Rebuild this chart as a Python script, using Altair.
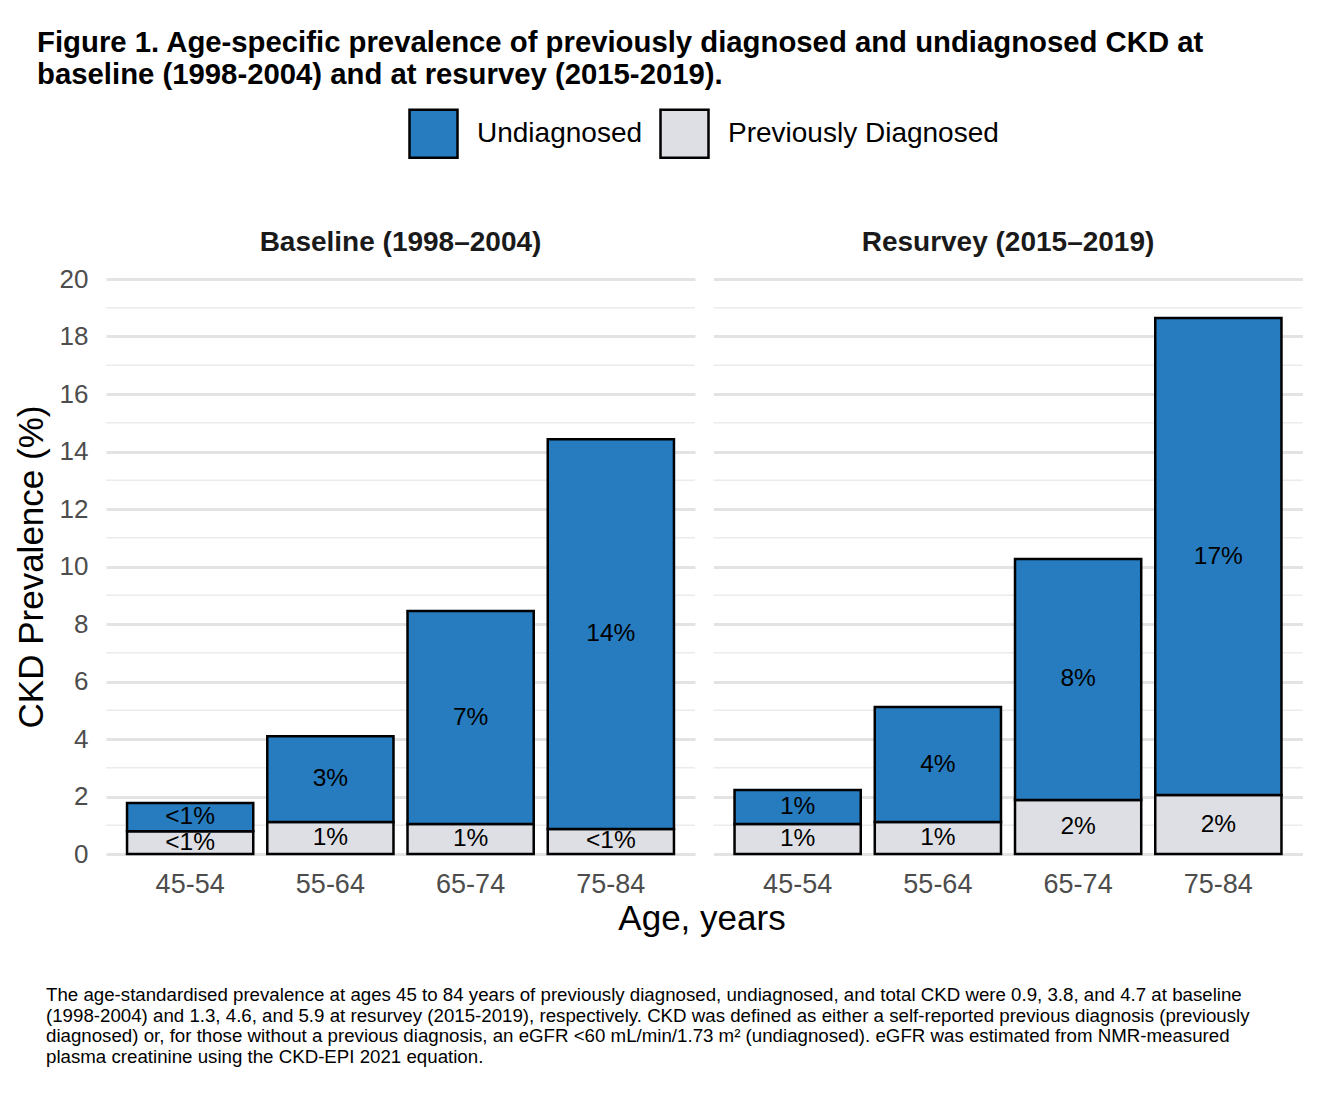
import altair as alt
import pandas as pd

# ---- data ----
ages = ["45-54", "55-64", "65-74", "75-84"]
periods = ["Baseline (1998–2004)", "Resurvey (2015–2019)"]
statuses = ["Undiagnosed", "Previously Diagnosed"]

diag_base = [0.79, 1.11, 1.04, 0.87]
undiag_base = [0.98, 2.99, 7.41, 13.56]
diag_resv = [1.04, 1.11, 1.88, 2.05]
undiag_resv = [1.19, 4.00, 8.38, 16.59]

lab_diag_base = ["<1%", "1%", "1%", "<1%"]
lab_undiag_base = ["<1%", "3%", "7%", "14%"]
lab_diag_resv = ["1%", "1%", "2%", "2%"]
lab_undiag_resv = ["1%", "4%", "8%", "17%"]

major_ticks = [0, 2, 4, 6, 8, 10, 12, 14, 16, 18, 20]
minor_ticks = [1, 3, 5, 7, 9, 11, 13, 15, 17, 19]

title_lines = [
    "Figure 1. Age-specific prevalence of previously diagnosed and undiagnosed CKD at",
    "baseline (1998-2004) and at resurvey (2015-2019).",
]
footnote_lines = [
    "The age-standardised prevalence at ages 45 to 84 years of previously diagnosed, undiagnosed, and total CKD were 0.9, 3.8, and 4.7 at baseline",
    "(1998-2004) and 1.3, 4.6, and 5.9 at resurvey (2015-2019), respectively. CKD was defined as either a self-reported previous diagnosis (previously",
    "diagnosed) or, for those without a previous diagnosis, an eGFR <60 mL/min/1.73 m² (undiagnosed). eGFR was estimated from NMR-measured",
    "plasma creatinine using the CKD-EPI 2021 equation.",
]

BLUE = "#267CBF"
GREY = "#DEDFE4"
FONT = "Liberation Sans"

rows = []
for period, dg, ug, ld, lu in [
    (periods[0], diag_base, undiag_base, lab_diag_base, lab_undiag_base),
    (periods[1], diag_resv, undiag_resv, lab_diag_resv, lab_undiag_resv),
]:
    for i, age in enumerate(ages):
        rows.append(dict(kind="bar", period=period, age=age, status="Previously Diagnosed",
                         y0=0.0, y1=dg[i], label=ld[i]))
        rows.append(dict(kind="bar", period=period, age=age, status="Undiagnosed",
                         y0=dg[i], y1=dg[i] + ug[i], label=lu[i]))
    for g in minor_ticks:
        rows.append(dict(kind="grid", period=period, age=ages[0], status=statuses[0],
                         y0=float(g), y1=float(g), label=""))
df = pd.DataFrame(rows)
df["ymid"] = (df["y0"] + df["y1"]) / 2

x_enc = alt.X(
    "age:N", sort=ages,
    scale=alt.Scale(paddingInner=0.1, paddingOuter=0.15),
    axis=alt.Axis(title=None, labelAngle=0, ticks=False, domain=False,
                  labelFontSize=27, labelColor="#4d4d4d", labelFont=FONT,
                  labelPadding=15, grid=False),
)
y_scale = alt.Scale(domain=[0, 20], nice=False, zero=True)

minor_grid = alt.Chart().transform_filter("datum.kind === 'grid'").mark_rule(
    color="#ebebeb", strokeWidth=1.5
).encode(y=alt.Y("y0:Q", scale=y_scale))

bars = alt.Chart().transform_filter("datum.kind === 'bar'").mark_bar(
    stroke="black", strokeWidth=2.5, opacity=1
).encode(
    x=x_enc,
    y=alt.Y(
        "y0:Q", scale=y_scale,
        axis=alt.Axis(
            title="CKD Prevalence (%)", values=major_ticks,
            ticks=False, domain=False, labelFontSize=26, labelColor="#4d4d4d",
            labelFont=FONT, labelPadding=17, titleFontSize=35,
            titleFontWeight="normal", titleFont=FONT, titleColor="black",
            titlePadding=10, gridColor="#e3e3e3", gridWidth=3,
        ),
    ),
    y2="y1:Q",
    color=alt.Color(
        "status:N",
        scale=alt.Scale(domain=statuses, range=[BLUE, GREY]),
        legend=alt.Legend(
            title=None, orient="none", direction="horizontal",
            legendX=302, legendY=-171,
            symbolType="square", symbolSize=2304, symbolStrokeColor="black",
            symbolStrokeWidth=2.5, symbolOpacity=1,
            labelFontSize=28, labelFont=FONT, labelColor="black",
            labelOffset=18, columnPadding=12, labelLimit=0,
        ),
    ),
)

labels = alt.Chart().transform_filter("datum.kind === 'bar'").mark_text(
    fontSize=24.5, font=FONT, color="black"
).encode(
    x=alt.X("age:N", sort=ages),
    y=alt.Y("ymid:Q", scale=y_scale),
    text="label:N",
)

panel = alt.layer(minor_grid, bars, labels, data=df).properties(width=589, height=575)

facet = panel.facet(
    column=alt.Column(
        "period:N", sort=periods,
        header=alt.Header(title=None, labelFontSize=28, labelFontWeight="bold",
                          labelFont=FONT, labelColor="#1a1a1a", labelPadding=22),
    ),
    spacing=16.5,
).properties(
    title=alt.Title("Age, years", orient="bottom", anchor="middle", frame="group",
                    fontSize=35, fontWeight="normal", font=FONT, color="black",
                    offset=5, dx=596)
)

foot = alt.Chart(pd.DataFrame({"a": [0]})).mark_text(
    text=footnote_lines, align="left", baseline="top", fontSize=18.7,
    font=FONT, color="black", lineHeight=20.5,
).encode(x=alt.value(-60), y=alt.value(0)).properties(width=1150, height=82)

chart = alt.vconcat(facet, foot, spacing=49).properties(
    title=alt.Title(title_lines, anchor="start", fontSize=29.3, font=FONT,
                    fontWeight="bold", color="black", lineHeight=32,
                    offset=18, dx=23),
    padding={"left": 14, "top": 28, "right": 5, "bottom": 5},
).configure(background="white", view=alt.ViewConfig(stroke=None))

chart.save("out.html", embed_options={"renderer": "svg", "actions": False})
